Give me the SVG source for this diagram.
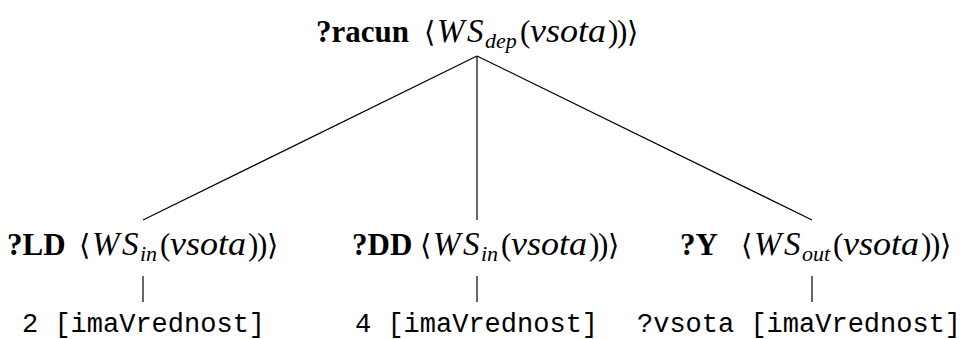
<svg xmlns="http://www.w3.org/2000/svg" width="972" height="339" viewBox="0 0 972 339">
<style>
.lb{font-family:"Liberation Serif","DejaVu Serif",serif;font-size:31px;fill:#000}
.nm{font-weight:bold;font-size:31px}
.mi{font-style:italic;font-size:33px}
.sb{font-style:italic;font-size:22px}
.up{font-size:31px}
.ab{font-family:"DejaVu Serif","Noto Sans",serif;font-size:29px}
.lf{font-family:"Liberation Mono","DejaVu Sans Mono",monospace;font-size:27px;fill:#000}
.ln{stroke:#000;stroke-width:1.2;fill:none}
</style>
<rect width="972" height="339" fill="#fff"/>
<g id="connectors">
<line class="ln" x1="477" y1="56" x2="143" y2="220"/>
<line class="ln" x1="477" y1="56" x2="477" y2="220"/>
<line class="ln" x1="477" y1="56" x2="812" y2="220"/>
<line class="ln" x1="143" y1="276" x2="143" y2="302"/>
<line class="ln" x1="477" y1="276" x2="477" y2="302"/>
<line class="ln" x1="812" y1="276" x2="812" y2="302"/>
</g>
<g id="racun">
<text class="lb" y="42"><tspan class="nm" x="316">?racun</tspan><tspan class="ab" x="424">⟨</tspan><tspan class="mi" x="437">W</tspan><tspan class="mi" x="467">S</tspan><tspan class="sb" x="485" dy="6">dep</tspan><tspan class="up" x="520" dy="-6">(</tspan><tspan class="mi" x="530" textLength="76" lengthAdjust="spacingAndGlyphs">vsota</tspan><tspan class="up" x="608">)</tspan><tspan class="up" x="617">)</tspan><tspan class="ab" x="627">⟩</tspan></text>
</g>
<g id="LD">
<text class="lb" y="255"><tspan class="nm" x="7">?LD</tspan><tspan class="ab" x="79">⟨</tspan><tspan class="mi" x="92">W</tspan><tspan class="mi" x="122">S</tspan><tspan class="sb" x="140" dy="6">in</tspan><tspan class="up" x="160" dy="-6">(</tspan><tspan class="mi" x="170" textLength="76" lengthAdjust="spacingAndGlyphs">vsota</tspan><tspan class="up" x="248">)</tspan><tspan class="up" x="257">)</tspan><tspan class="ab" x="267">⟩</tspan></text>
</g>
<g id="DD">
<text class="lb" y="255"><tspan class="nm" x="352">?DD</tspan><tspan class="ab" x="420">⟨</tspan><tspan class="mi" x="433">W</tspan><tspan class="mi" x="463">S</tspan><tspan class="sb" x="481" dy="6">in</tspan><tspan class="up" x="501" dy="-6">(</tspan><tspan class="mi" x="511" textLength="76" lengthAdjust="spacingAndGlyphs">vsota</tspan><tspan class="up" x="589">)</tspan><tspan class="up" x="598">)</tspan><tspan class="ab" x="608">⟩</tspan></text>
</g>
<g id="Y">
<text class="lb" y="255"><tspan class="nm" x="680">?Y</tspan><tspan class="ab" x="741">⟨</tspan><tspan class="mi" x="754">W</tspan><tspan class="mi" x="784">S</tspan><tspan class="sb" x="802" dy="6">out</tspan><tspan class="up" x="833" dy="-6">(</tspan><tspan class="mi" x="843" textLength="76" lengthAdjust="spacingAndGlyphs">vsota</tspan><tspan class="up" x="921">)</tspan><tspan class="up" x="930">)</tspan><tspan class="ab" x="940">⟩</tspan></text>
</g>
<g id="leaf1"><text class="lf" x="22" y="332">2 [imaVrednost]</text></g>
<g id="leaf2"><text class="lf" x="355" y="332">4 [imaVrednost]</text></g>
<g id="leaf3"><text class="lf" x="637" y="332">?vsota [imaVrednost]</text></g>
</svg>
